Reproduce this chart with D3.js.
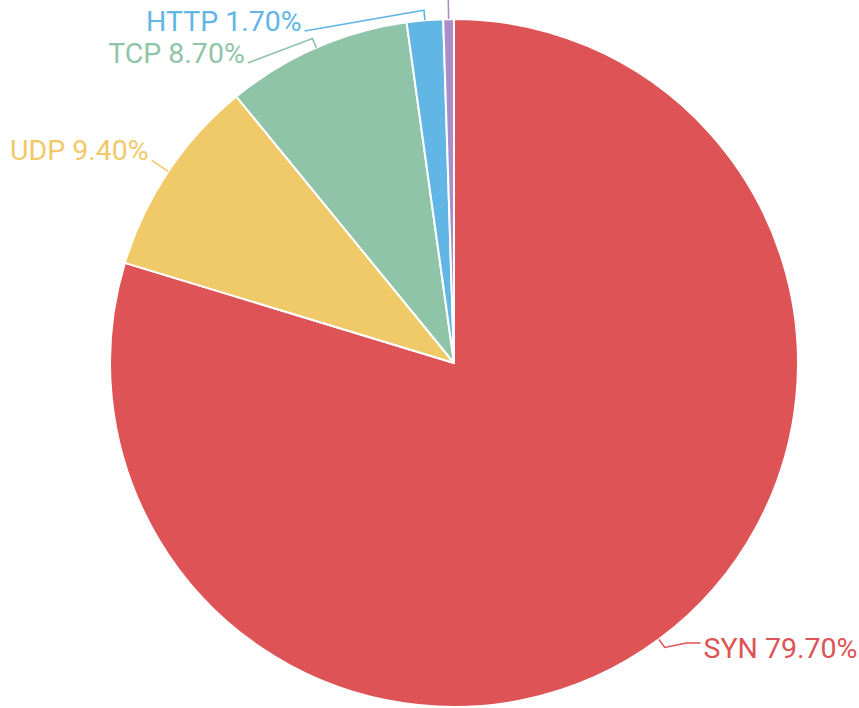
<!DOCTYPE html>
<html>
<head>
<meta charset="utf-8">
<script src="https://cdn.jsdelivr.net/npm/d3@7"></script>
<style>
body { margin: 0; background: #fff; }
svg { display: block; }
text { font-family: Roboto, "Noto Sans", sans-serif; }
</style>
</head>
<body>
<div id="chart"></div>
<script>
/* Protocol share pie */

var protocols = ["SYN", "UDP", "TCP", "HTTP", "ICMP"];
var shares = [79.7, 9.4, 8.7, 1.7, 0.5];
var sliceColors = ["#dd5356", "#f0c968", "#8fc4a8", "#62b6e6", "#ab8ec9"];

var width = 859;
var height = 708;

var cx = 454;
var cy = 363;
var radius = 344;
var lineLen1 = 10;     // radial piece of the label line
var lineLen2 = 14;     // horizontal tail on the right side
var labelRadius = radius + 20;
var labelGap = 32;     // min vertical spacing between labels
var fontSize = 28.5;

var svg = d3.select("#chart")
    .append("svg")
    .attr("width", width)
    .attr("height", height);

var pie = d3.pie()
    .sort(null)
    .value(function (d) { return d.value; });

var data = protocols.map(function (name, i) {
    return { name: name, value: shares[i], color: sliceColors[i] };
});

var arcs = pie(data);

var arc = d3.arc()
    .innerRadius(0)
    .outerRadius(radius);

var g = svg.append("g")
    .attr("transform", "translate(" + cx + "," + cy + ")");

g.selectAll("path.slice")
    .data(arcs)
    .enter()
    .append("path")
    .attr("class", "slice")
    .attr("d", arc)
    .attr("fill", function (d) { return d.data.color; })
    .attr("stroke", "#fff")
    .attr("stroke-width", 2)
    .attr("stroke-linejoin", "round");

// label layout
function polar(a, r) {
    return [cx + r * Math.sin(a), cy - r * Math.cos(a)];
}

var labels = arcs.map(function (d) {
    var mid = (d.startAngle + d.endAngle) / 2;
    return {
        d: d,
        mid: mid,
        left: Math.sin(mid) < 0,
        edge: polar(mid, radius),
        p1: polar(mid, radius + lineLen1),
        y: polar(mid, labelRadius)[1]
    };
});

// left side: push labels down so they don't overlap
var leftLabels = labels.filter(function (l) { return l.left; })
    .sort(function (a, b) { return a.y - b.y; });
for (var i = 1; i < leftLabels.length; i++) {
    leftLabels[i].y = Math.max(leftLabels[i].y, leftLabels[i - 1].y + labelGap);
}

// right side: keep labels inside the bottom of the view
var rightLabels = labels.filter(function (l) { return !l.left; })
    .sort(function (a, b) { return b.y - a.y; });
for (var j = 0; j < rightLabels.length; j++) {
    var lim = j === 0 ? height - 65 : rightLabels[j - 1].y - labelGap;
    rightLabels[j].y = Math.min(rightLabels[j].y, lim);
}

labels.forEach(function (l) {
    var dy = l.y - cy;
    var dx = Math.sqrt(Math.max(0, labelRadius * labelRadius - dy * dy));
    l.x = l.left ? cx - dx : cx + dx;
    l.pts = [l.edge, l.p1, [l.x, l.y]];
    if (!l.left) {
        l.x += lineLen2;
        l.pts.push([l.x, l.y]);
    }
});

var line = d3.line();

svg.selectAll("path.label-line")
    .data(labels)
    .enter()
    .append("path")
    .attr("class", "label-line")
    .attr("d", function (l) { return line(l.pts); })
    .attr("fill", "none")
    .attr("stroke", function (l) { return l.d.data.color; })
    .attr("stroke-width", 1.6);

// labels pushed above the top edge are not drawn (only their line shows)
svg.selectAll("text.label")
    .data(labels.filter(function (l) { return l.y > fontSize; }))
    .enter()
    .append("text")
    .attr("class", "label")
    .attr("x", function (l) { return l.left ? l.x - 3 : l.x + 3; })
    .attr("y", function (l) { return l.left ? l.y : l.y + 5; })
    .attr("dominant-baseline", function (l) { return l.left ? "alphabetic" : "central"; })
    .attr("text-anchor", function (l) { return l.left ? "end" : "start"; })
    .attr("font-size", fontSize)
    .attr("fill", function (l) { return l.d.data.color; })
    .text(function (l) { return l.d.data.name + " " + l.d.data.value.toFixed(2) + "%"; });
</script>
</body>
</html>
